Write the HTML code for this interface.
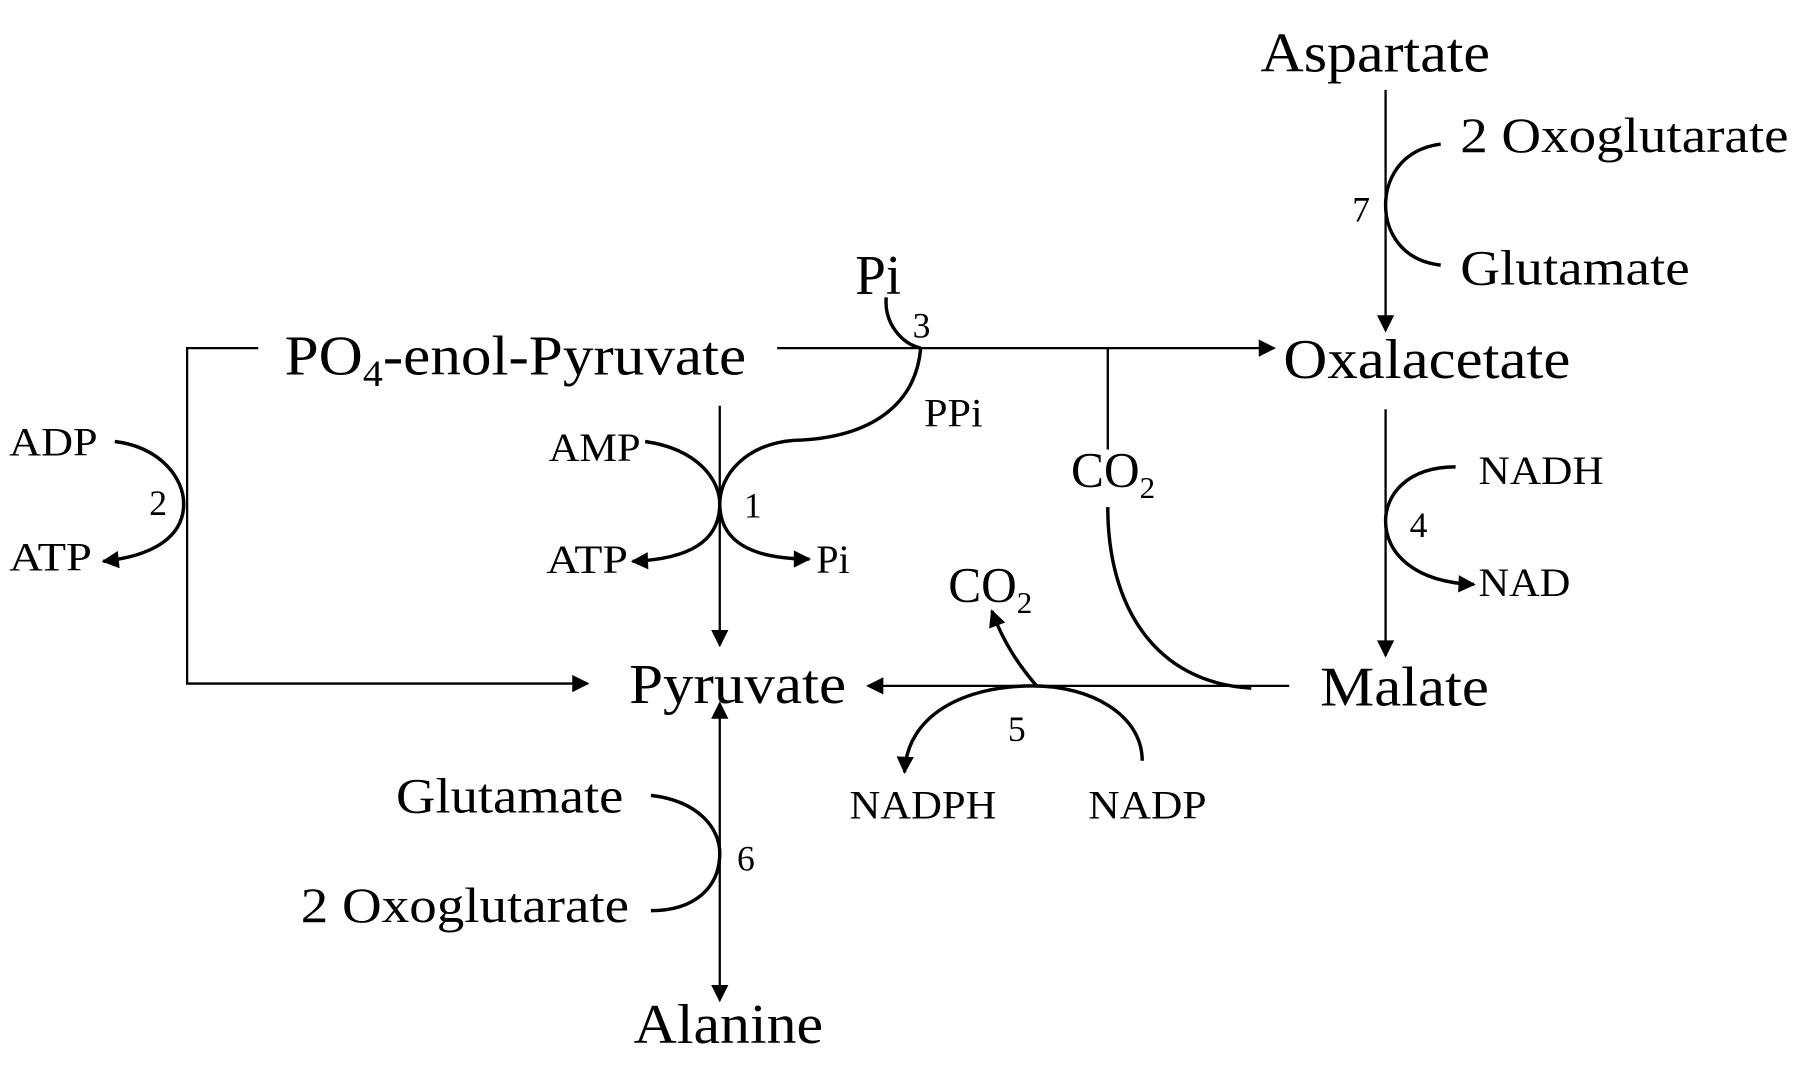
<!DOCTYPE html>
<html><head><meta charset="utf-8"><style>html,body{margin:0;padding:0;background:#fff}svg{display:block}</style></head>
<body>
<svg width="1800" height="1072" viewBox="0 0 1568 930" preserveAspectRatio="none" xmlns="http://www.w3.org/2000/svg" font-family="Liberation Serif, serif" fill="#000">
<defs>
<marker id="a" viewBox="0 0 10 10" refX="9" refY="5" markerWidth="17" markerHeight="15" markerUnits="userSpaceOnUse" orient="auto"><path d="M0,0L10,5L0,10z"/></marker>
</defs>
<g stroke="#000" fill="none" stroke-width="2">
<line x1="1207" y1="78" x2="1207" y2="287" marker-end="url(#a)"/>
<path d="M1255,125 C1218,130 1207,158 1207,178 C1207,200 1220,226 1255,230" stroke-width="3"/>
<line x1="677" y1="302" x2="1110" y2="302" marker-end="url(#a)"/>
<line x1="965" y1="302" x2="965" y2="390"/>
<path d="M965,440 C965,525 1005,592 1090,597" stroke-width="3"/>
<path d="M772,258 C770,280 785,298 802,302" stroke-width="3"/>
<path d="M802,302 C798,350 760,380 692,382" stroke-width="3"/>
<polyline points="225,302 163,302 163,593 512,593" marker-end="url(#a)"/>
<path d="M100,383 C140,388 160,415 160,437 C160,465 135,482 90,487" stroke-width="3" marker-end="url(#a)"/>
<line x1="627" y1="352" x2="627" y2="560" marker-end="url(#a)"/>
<path d="M562,383 C610,390 627,418 627,437 C627,470 600,485 551,487" stroke-width="3" marker-end="url(#a)"/>
<path d="M692,382 C650,385 627,412 627,437 C627,470 655,485 705,485" stroke-width="3" marker-end="url(#a)"/>
<line x1="1123" y1="595" x2="756" y2="595" marker-end="url(#a)"/>
<path d="M995,660 C995,620 950,595 900,595 C840,595 790,620 788,670" stroke-width="3" marker-end="url(#a)"/>
<path d="M903,595 C890,580 875,560 864,530" stroke-width="3" marker-end="url(#a)"/>
<line x1="1207" y1="355" x2="1207" y2="569" marker-end="url(#a)"/>
<path d="M1268,405 C1225,405 1207,430 1207,452 C1207,480 1232,505 1284,507" stroke-width="3" marker-end="url(#a)"/>
<line x1="627" y1="740" x2="627" y2="610" marker-end="url(#a)"/>
<line x1="627" y1="740" x2="627" y2="868" marker-end="url(#a)"/>
<path d="M567,690 C610,695 627,720 627,740 C627,770 605,790 567,790" stroke-width="3"/>
</g>
<g font-size="49">
<text x="1098" y="62" textLength="200" lengthAdjust="spacingAndGlyphs">Aspartate</text>
<text x="248" y="325" textLength="402" lengthAdjust="spacingAndGlyphs">PO<tspan font-size="32" dy="10">4</tspan><tspan dy="-10">-enol-Pyruvate</tspan></text>
<text x="1118" y="328" textLength="250" lengthAdjust="spacingAndGlyphs">Oxalacetate</text>
<text x="548" y="610" textLength="189" lengthAdjust="spacingAndGlyphs">Pyruvate</text>
<text x="1150" y="612" textLength="147" lengthAdjust="spacingAndGlyphs">Malate</text>
<text x="552" y="905" textLength="165" lengthAdjust="spacingAndGlyphs">Alanine</text>
<text x="745" y="255" textLength="40" lengthAdjust="spacingAndGlyphs">Pi</text>
</g>
<g font-size="43">
<text x="1272" y="132" textLength="286" lengthAdjust="spacingAndGlyphs">2 Oxoglutarate</text>
<text x="1272" y="247" textLength="200" lengthAdjust="spacingAndGlyphs">Glutamate</text>
<text x="345" y="705" textLength="198" lengthAdjust="spacingAndGlyphs">Glutamate</text>
<text x="262" y="800" textLength="286" lengthAdjust="spacingAndGlyphs">2 Oxoglutarate</text>
<text x="933" y="422">CO<tspan font-size="27" dy="10">2</tspan></text>
<text x="826" y="522">CO<tspan font-size="27" dy="10">2</tspan></text>
</g>
<g font-size="35">
<text x="8" y="395" textLength="77" lengthAdjust="spacingAndGlyphs">ADP</text>
<text x="8" y="495" textLength="72" lengthAdjust="spacingAndGlyphs">ATP</text>
<text x="478" y="400" textLength="80" lengthAdjust="spacingAndGlyphs">AMP</text>
<text x="476" y="497" textLength="71" lengthAdjust="spacingAndGlyphs">ATP</text>
<text x="711" y="497">Pi</text>
<text x="805" y="370" textLength="51" lengthAdjust="spacingAndGlyphs">PPi</text>
<text x="1288" y="420" textLength="109" lengthAdjust="spacingAndGlyphs">NADH</text>
<text x="1288" y="517" textLength="80" lengthAdjust="spacingAndGlyphs">NAD</text>
<text x="740" y="710" textLength="128" lengthAdjust="spacingAndGlyphs">NADPH</text>
<text x="948" y="710" textLength="103" lengthAdjust="spacingAndGlyphs">NADP</text>
</g>
<g font-size="31">
<text x="1178" y="192">7</text>
<text x="795" y="293">3</text>
<text x="130" y="447">2</text>
<text x="648" y="449">1</text>
<text x="1228" y="466">4</text>
<text x="878" y="643">5</text>
<text x="642" y="755">6</text>
</g>
</svg>
</body></html>
